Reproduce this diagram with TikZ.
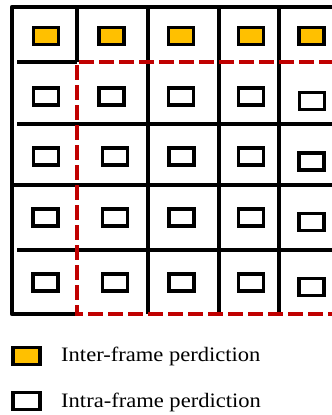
\documentclass[tikz,border=0pt]{standalone}
\usepackage{fontspec}
\setmainfont{Liberation Serif}
\newfontfamily\legfont[FakeStretch=1.1]{Liberation Serif}
\definecolor{interfill}{HTML}{FFC000}
\definecolor{dashred}{HTML}{C00000}
\begin{document}
\begin{tikzpicture}[x=1pt,y=-1pt,
  gridline/.style={line width=4pt, black},
  borderline/.style={line width=4.5pt, black, line join=round},
  regionline/.style={line width=4.5pt, dashred, dash pattern=on 15pt off 5pt},
  intrabox/.style={draw, line width=3.5pt, fill=white, minimum width=25pt, minimum height=17pt, inner sep=0pt},
  interbox/.style={intrabox, fill=interfill},
  legbox/.style={draw, line width=3.5pt, minimum width=27pt, minimum height=17pt, inner sep=0pt},
  legtext/.style={anchor=base west, inner sep=0pt, font=\legfont\fontsize{20.5}{24}\selectfont}]
\useasboundingbox (0,0) rectangle (332,415);
\begin{scope}
\clip (0,0) rectangle (332,415);
% interior grid lines
\coordinate (h1a) at (17,62);  \coordinate (h1b) at (77,62);
\draw[gridline] (h1a) -- (h1b);
\coordinate (h2a) at (17,124); \coordinate (h2b) at (332,124);
\draw[gridline] (h2a) -- (h2b);
\coordinate (h3a) at (12,185); \coordinate (h3b) at (332,185);
\draw[gridline] (h3a) -- (h3b);
\coordinate (h4a) at (17,250); \coordinate (h4b) at (332,250);
\draw[gridline] (h4a) -- (h4b);
\coordinate (v1a) at (77,7);   \coordinate (v1b) at (77,62);
\draw[gridline] (v1a) -- (v1b);
\coordinate (v2a) at (147.5,7); \coordinate (v2b) at (147.5,314);
\draw[gridline] (v2a) -- (v2b);
\coordinate (v3a) at (218.5,7); \coordinate (v3b) at (218.5,314);
\draw[gridline] (v3a) -- (v3b);
\coordinate (v4a) at (279,7);  \coordinate (v4b) at (279,314);
\draw[gridline] (v4a) -- (v4b);
% outer border
\coordinate (bl) at (12,314); \coordinate (tl) at (12,7);
\coordinate (tr) at (332,7);  \coordinate (bm) at (77,314);
\draw[borderline] (bm) -- (bl) -- (tl) -- (tr);
% red dashed region
\coordinate (rc) at (77,62); \coordinate (rr) at (334,62);
\coordinate (rb) at (77,314); \coordinate (rbr) at (334,314);
\draw[regionline] (rr) -- (rc) -- (rb) -- (rbr);
% row 1 (inter-frame)
\node[interbox] (b11) at (46,36) {};
\node[interbox] (b12) at (111.5,36) {};
\node[interbox] (b13) at (181,36) {};
\node[interbox] (b14) at (251,36) {};
\node[interbox] (b15) at (311.5,36) {};
% row 2
\node[intrabox] (b21) at (46,96.5) {};
\node[intrabox] (b22) at (111.5,96.5) {};
\node[intrabox] (b23) at (181,96.5) {};
\node[intrabox] (b24) at (251,96.5) {};
\node[intrabox] (b25) at (312,101) {};
% row 3
\node[intrabox] (b31) at (46,156.7) {};
\node[intrabox] (b32) at (115,156.7) {};
\node[intrabox] (b33) at (181.5,156.7) {};
\node[intrabox] (b34) at (251,156.5) {};
\node[intrabox] (b35) at (311.5,161.7) {};
% row 4
\node[intrabox] (b41) at (45.5,217.5) {};
\node[intrabox] (b42) at (115,217.5) {};
\node[intrabox] (b43) at (181.5,217.5) {};
\node[intrabox] (b44) at (251,217.5) {};
\node[intrabox] (b45) at (311.5,222) {};
% row 5
\node[intrabox] (b51) at (45.5,282.7) {};
\node[intrabox] (b52) at (115,282.7) {};
\node[intrabox] (b53) at (181.5,282.7) {};
\node[intrabox] (b54) at (251,282.7) {};
\node[intrabox] (b55) at (311.5,287) {};
\end{scope}
% legend
\node[legbox, fill=interfill] (leginter) at (26.7,356) {};
\node[legtext] (leginterlabel) at (61,361.7) {Inter-frame perdiction};
\node[legbox, fill=white] (legintra) at (26.7,401) {};
\node[legtext] (legintralabel) at (61,407) {Intra-frame perdiction};
\end{tikzpicture}
\end{document}
